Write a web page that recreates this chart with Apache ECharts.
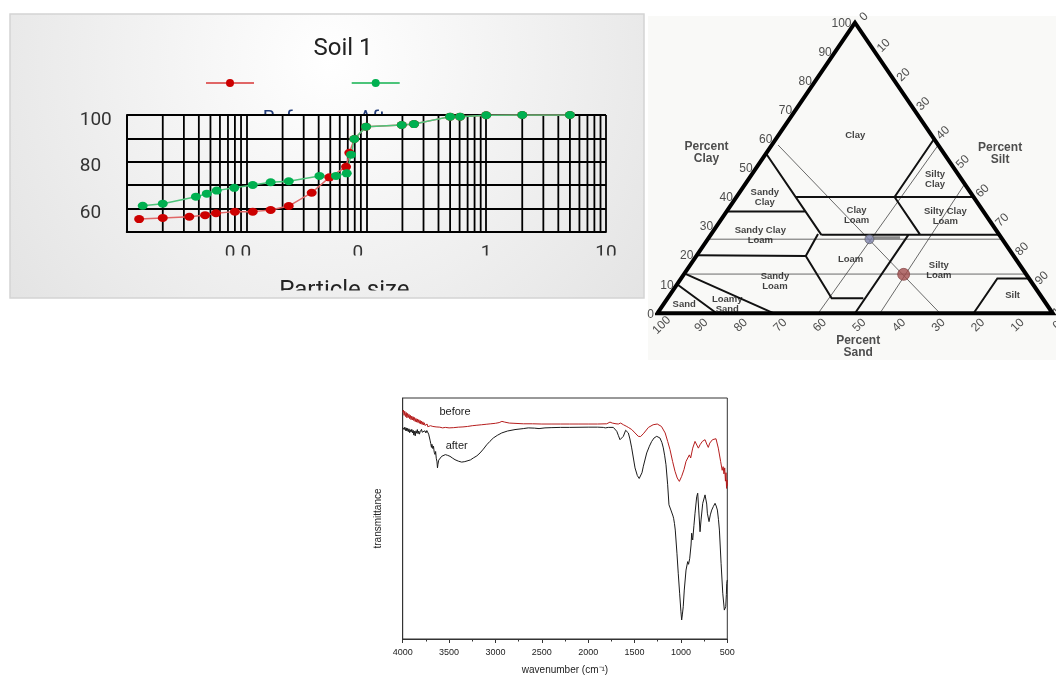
<!DOCTYPE html>
<html><head><meta charset="utf-8">
<script src="https://cdn.jsdelivr.net/npm/echarts@6/dist/echarts.min.js"></script>
<style>html,body{margin:0;padding:0;background:#fff}#c{width:1056px;height:677px}</style>
</head><body><div id="c"></div>
<script>
// ================= Panel 1 : grain size (Soil 1) =================
const soilTitle = 'Soil 1';
const seriesNames = ['Before', 'After'];
const sizeTickLabels = ['', '0.0', '0.', '1', '10'];      // labels at 0.001, 0.01, 0.1, 1, 10
const pctLabelValues = [60, 80, 100];
const beforeSize = [0.00127, 0.0020, 0.00333, 0.00451, 0.00556, 0.0080, 0.01127, 0.0159, 0.0225, 0.035, 0.0491, 0.0677, 0.0721, 0.0794, 0.0994, 0.1975, 0.25, 0.5, 0.605, 1, 2, 5];
const beforePct  = [55.4, 55.9, 56.4, 57.1, 57.9, 58.6, 58.6, 59.3, 61.0, 66.7, 73.3, 77.8, 83.8, 89.7, 95.0, 95.7, 96.1, 99.3, 99.3, 99.9, 100, 100];
const afterSize  = [0.00136, 0.0020, 0.00378, 0.00466, 0.00564, 0.0079, 0.01127, 0.0159, 0.0225, 0.0406, 0.0558, 0.0686, 0.0745, 0.0794, 0.0994, 0.1975, 0.25, 0.5, 0.605, 1, 2, 5];
const afterPct   = [61.1, 62.0, 65.0, 66.3, 67.6, 68.8, 70.0, 71.2, 71.6, 73.9, 73.9, 75.0, 83.0, 89.7, 95.0, 95.7, 96.1, 99.3, 99.3, 99.9, 100, 100];
const minorDecades = [0.001, 0.01, 0.1, 1];
const minorMultiples = [2, 3, 4, 5, 6, 7, 8, 9];
const pctRange = [50, 100];

// ================= Panel 2 : USDA texture triangle ([sand, clay] in %) =================
const triOutline = [[100, 0], [0, 100], [0, 0], [100, 0], [0, 100]];
const classBounds = [
  [[90, 10], [85, 0]],
  [[86, 13.5], [70.5, 0]],
  [[80, 20], [52.6, 19.7]],
  [[52.6, 19.7], [53.3, 5.2], [45.3, 5.2]],
  [[50, 0], [23, 27]],
  [[45.7, 27.3], [52.6, 19.7]],
  [[45, 55], [45, 27]],
  [[65, 35], [45, 35]],
  [[45, 40], [0, 40]],
  [[45, 27], [0, 27]],
  [[0, 60], [20, 40]],
  [[20, 40], [20, 27]],
  [[20, 0], [8, 12], [0, 12]]
];
const readLines = [
  [[74.5, 25.5], [0, 25.5]],
  [[86.5, 13.5], [0, 13.5]],
  [[40.5, 57.9], [28.5, 0]],
  [[59.3, 0], [0, 57.9]],
  [[43.7, 0], [0, 44.5]]
];
const readMark = [[32.4, 26], [25.6, 26]];
const samplePoints = [[33.6, 25.5], [31.0, 13.4]];
const textureNames = ['Clay', 'Sandy\nClay', 'Sandy Clay\nLoam', 'Clay\nLoam', 'Silty\nClay', 'Silty Clay\nLoam', 'Loam', 'Silty\nLoam', 'Sandy\nLoam', 'Sand', 'Loamy\nSand', 'Silt'];
const textureAt = [[19.4, 61.1], [52.8, 40.0], [60.5, 26.9], [32.7, 33.8], [6.7, 46.1], [10.4, 33.5], [41.8, 18.6], [21.5, 14.6], [64.8, 10.9], [91.6, 3.2], [80.7, 3.2], [7.1, 6.1]];
const axisTitles = ['Percent\nClay', 'Percent\nSilt', 'Percent\nSand'];
const axisTitleAt = [[60, 55.1], [-14.1, 54.8], [55, -11.6]];
const pctTicks = [0, 10, 20, 30, 40, 50, 60, 70, 80, 90, 100];

// ================= Panel 3 : FTIR spectra =================
const beforeWn = [4000,3992,3985,3978,3970,3962,3955,3947,3940,3932,3925,3917,3910,3902,3895,3887,3880,3872,3865,3857,3850,3842,3835,3827,3820,3812,3805,3797,3790,3782,3775,3767,3760,3752,3745,3737,3730,3720,3710,3700,3690,3675,3660,3640,3620,3600,3570,3540,3500,3450,3400,3350,3300,3250,3200,3150,3100,3050,3000,2960,2930,2915,2900,2880,2850,2800,2700,2600,2500,2400,2300,2200,2100,2000,1900,1800,1765,1740,1700,1675,1650,1620,1590,1567,1530,1495,1460,1435,1400,1350,1300,1255,1210,1170,1143,1118,1090,1064,1040,1017,1005,992,967,945,931,909,895,873,848,830,812,794,769,740,722,705,689,660,640,622,597,572,555,545,536,528,520,514,508,503,500];
const beforeT  = [94.0,95.0,92.8,94.5,92.3,94.0,91.8,93.6,91.9,93.2,91.4,92.8,91.0,92.5,90.9,92.2,90.6,91.9,90.2,91.5,90.0,91.3,89.8,91.0,89.5,90.7,89.2,90.4,89.0,90.1,88.8,89.7,88.6,89.4,88.4,89.2,88.1,88.9,87.9,88.5,87.8,88.2,87.7,88.0,87.6,87.9,87.6,87.8,87.6,87.7,87.9,88.0,88.2,88.5,88.7,88.9,89.1,89.3,89.5,89.8,90.3,90.5,90.0,89.8,89.6,89.5,89.3,89.3,89.2,89.2,89.2,89.2,89.2,89.2,89.2,89.3,90.0,89.6,89.3,89.2,89.6,88.9,88.3,87.8,86.9,85.5,84.1,84.0,85.4,87.8,88.9,89.2,88.2,85.5,82.0,78.6,73.7,69.6,66.8,65.4,65.6,67.5,70.3,73.7,73.0,76.4,75.1,79.2,82.0,82.7,79.2,80.6,82.0,82.7,80.9,79.5,81.3,82.7,82.0,83.1,79.2,73.7,70.0,71.5,68.5,71.0,65.5,69.0,62.5,66.0,63.5];
const afterWn = [4000,3992,3985,3977,3970,3962,3955,3947,3940,3932,3925,3917,3910,3902,3895,3887,3880,3872,3865,3857,3850,3842,3835,3827,3820,3812,3805,3797,3790,3780,3770,3760,3750,3740,3730,3720,3712,3705,3698,3690,3685,3675,3668,3660,3652,3645,3638,3630,3625,3620,3612,3600,3580,3560,3540,3515,3490,3460,3436,3400,3364,3330,3310,3270,3239,3200,3166,3130,3094,3060,3023,2980,2932,2870,2789,2700,2646,2580,2530,2520,2510,2466,2400,2300,2200,2000,1900,1837,1815,1808,1800,1783,1729,1710,1692,1675,1657,1639,1621,1596,1580,1567,1550,1531,1495,1470,1450,1434,1420,1405,1369,1340,1315,1290,1261,1245,1226,1205,1190,1175,1161,1143,1129,1108,1085,1079,1070,1061,1043,1029,1014,1000,992,985,975,964,945,927,918,910,905,899,891,884,878,873,860,848,830,819,808,794,783,765,740,730,722,715,697,683,668,650,632,620,607,595,585,567,549,532,524,517,510,506,500];
const afterT  = [87.8,88.4,86.9,87.9,86.5,87.6,86.3,87.4,86.0,87.2,85.6,86.8,85.9,87.0,85.5,86.6,84.6,86.2,84.3,86.4,85.4,86.9,85.2,86.3,85.0,86.0,85.3,87.0,85.8,86.6,85.6,86.4,85.5,86.5,86.8,85.0,84.6,82.5,81.2,79.5,80.8,79.0,80.0,77.5,76.6,77.8,75.0,73.5,71.0,72.5,74.2,75.0,75.8,76.4,76.5,76.2,75.8,75.0,74.4,73.8,73.4,73.6,73.7,74.3,75.1,76.0,77.2,78.8,80.6,82.0,83.4,84.5,85.5,86.3,86.9,87.3,87.6,87.5,87.3,86.8,87.3,87.6,87.7,87.8,87.8,87.9,87.9,87.8,87.6,86.9,87.5,87.8,87.8,87.3,86.2,84.5,82.7,82.3,84.1,86.6,86.3,85.5,83.0,79.3,71.0,67.8,66.6,66.8,69.0,71.7,77.2,80.0,82.0,83.4,84.1,84.0,83.4,81.5,79.3,76.0,72.3,64.0,55.7,53.5,51.0,50.1,48.0,45.2,35.6,27.3,19.0,11.3,7.9,10.0,13.4,20.3,28.6,32.1,31.0,30.7,33.5,32.8,39.0,43.9,42.0,41.1,47.0,52.2,59.0,60.5,53.5,44.5,49.4,56.3,59.8,60.5,56.0,52.2,48.7,51.5,53.5,55.0,56.3,55.2,53.5,49.5,45.2,31.4,19.0,12.0,11.5,13.4,18.5,23.1,24.5];

// ---------------- helpers ----------------
const zip = (a, b) => a.map((v, i) => [v, b[i]]);
const tern = p => [100 - p[0] - p[1] / 2, p[1]];          // [sand, clay] -> triangle cartesian
const polyData = list => {
  const out = [];
  list.forEach((pl, i) => { if (i) out.push(['-', '-']); pl.forEach(p => out.push(tern(p))); });
  return out;
};
const minorGridData = [];
minorDecades.forEach(d => minorMultiples.forEach(m => {
  const v = +(d * m).toPrecision(3);
  if (minorGridData.length) minorGridData.push(['-', '-']);
  minorGridData.push([v, pctRange[0]], [v, pctRange[1]]);
}));
// label offset given in screen pixels, converted to the label's rotated frame (45° CCW)
const rotOffset = (dx, dy) => { const c = Math.SQRT1_2; return [dx * c - dy * c, dx * c + dy * c]; };

const F1 = 'Roboto, "Open Sans", sans-serif';
const FA = '"Liberation Sans", Arial, sans-serif';
const bgGrad = { type: 'radial', x: 330, y: 60, r: 420, global: true,
  colorStops: [{ offset: 0, color: '#ffffff' }, { offset: 1, color: '#e2e2e2' }] };
const centered = { textAlign: 'center', align: 'center', textVerticalAlign: 'middle', verticalAlign: 'middle' };
const vmid = { textVerticalAlign: 'middle', verticalAlign: 'middle' };

const triLineSeries = (data, width, color, z) => ({
  type: 'line', xAxisIndex: 1, yAxisIndex: 1, data, symbol: 'none', showSymbol: false,
  connectNulls: false, clip: false, silent: true, z,
  lineStyle: { width, color, join: 'miter', miterLimit: 10 }
});
const triLabelSeries = (names, at, label) => ({
  type: 'scatter', xAxisIndex: 1, yAxisIndex: 1, clip: false, silent: true, z: 7,
  symbolSize: 1, itemStyle: { color: 'rgba(0,0,0,0)' },
  data: names.map((n, i) => ({ name: String(n), value: tern(at[i]) })),
  label: Object.assign({ show: true, formatter: p => p.name, color: '#111', fontFamily: FA }, label)
});

const option = {
  animation: false,
  graphic: [
    { type: 'rect', z: 0, shape: { x: 10, y: 14, width: 634, height: 284 }, style: { fill: bgGrad, stroke: '#d4d4d4', lineWidth: 1.5 } },
    { type: 'text', z: 1, x: 262.7, y: 119.5, style: Object.assign({ text: seriesNames[0], font: '20px ' + F1, fill: '#1f3a78' }, vmid) },
    { type: 'text', z: 1, x: 359, y: 119.5, style: Object.assign({ text: seriesNames[1], font: '20px ' + F1, fill: '#1f3a78' }, vmid) },
    { type: 'rect', z: 2, shape: { x: 126.7, y: 115, width: 479.3, height: 116.7 }, style: { fill: bgGrad } },
    // bottom clipping of the panel's axis texts
    { type: 'rect', z: 20, shape: { x: 60, y: 255.5, width: 580, height: 17 }, style: { fill: bgGrad } },
    { type: 'rect', z: 20, shape: { x: 60, y: 290.5, width: 580, height: 6.5 }, style: { fill: bgGrad } },
    { type: 'text', z: 3, x: 343, y: 49, style: Object.assign({ text: soilTitle, font: '24px ' + F1, fill: '#222' }, centered) },
    { type: 'rect', z: 0, shape: { x: 648, y: 16, width: 408, height: 344 }, style: { fill: '#f9f9f7' } },
    { type: 'text', z: 3, x: 455, y: 412, style: Object.assign({ text: 'before', font: '11px ' + FA, fill: '#222' }, centered) },
    { type: 'text', z: 3, x: 456.7, y: 446.3, style: Object.assign({ text: 'after', font: '11px ' + FA, fill: '#222' }, centered) }
  ],
  legend: [
    { data: [seriesNames[0]], left: 200, top: 73, itemWidth: 48, itemHeight: 10, formatter: () => '', z: 6, selectedMode: false },
    { data: [seriesNames[1]], left: 345.7, top: 73, itemWidth: 48, itemHeight: 10, formatter: () => '', z: 6, selectedMode: false }
  ],
  grid: [
    { left: 126.7, top: 115, width: 479.3, height: 116.7 },
    { left: 657.3, top: 22.7, width: 395.4, height: 290.6 },
    { left: 402.7, top: 398, width: 324.6, height: 241, show: true, borderColor: '#333', borderWidth: 1, backgroundColor: 'transparent' }
  ],
  xAxis: [
    { gridIndex: 0, type: 'log', logBase: 10, min: 0.001, max: 10, z: 3,
      axisLine: { show: true, lineStyle: { color: '#000', width: 1.8 } }, axisTick: { show: false },
      splitLine: { show: true, lineStyle: { color: '#000', width: 1.8 } },
      axisLabel: { margin: 12, fontSize: 19, color: '#333', fontFamily: F1,
        formatter: v => { const k = Math.round(Math.log10(v)) + 3; const t = sizeTickLabels[k] || ''; return k === 1 ? '{a|' + t + '}' : (k === 2 ? '{b|' + t + '}' : t); },
        rich: { a: { fontSize: 19, color: '#333', fontFamily: F1, padding: [0, 17, 0, 0] }, b: { fontSize: 19, color: '#333', fontFamily: F1, padding: [0, 12, 0, 0] } } },
      name: 'Particle size', nameLocation: 'middle', nameGap: 47,
      nameTextStyle: { fontSize: 24, color: '#222', fontFamily: F1, padding: [0, 44, 0, 0] } },
    { gridIndex: 1, type: 'value', min: 0, max: 100, show: false },
    { gridIndex: 2, type: 'value', min: 500, max: 4000, interval: 500, inverse: true,
      axisLine: { show: true, lineStyle: { color: '#333', width: 1 } },
      axisTick: { show: true, inside: false, length: 4, lineStyle: { color: '#333' } },
      minorTick: { show: true, splitNumber: 2, length: 2.5, lineStyle: { color: '#333' } },
      splitLine: { show: false },
      axisLabel: { margin: 9, fontSize: 9, color: '#222', fontFamily: FA, formatter: v => String(v) },
      name: 'wavenumber (cm\u207B\u00B9)', nameLocation: 'middle', nameGap: 26,
      nameTextStyle: { fontSize: 10, color: '#222', fontFamily: FA } }
  ],
  yAxis: [
    { gridIndex: 0, type: 'value', min: pctRange[0], max: pctRange[1], interval: 10, z: 3,
      axisLine: { show: true, lineStyle: { color: '#000', width: 1.8 } }, axisTick: { show: false },
      splitLine: { show: true, lineStyle: { color: '#000', width: 1.8 } },
      axisLabel: { align: 'left', margin: 47, fontSize: 19, color: '#333', fontFamily: F1,
        formatter: v => pctLabelValues.includes(v) ? '{p|' + v + '}' : '',
        rich: { p: { fontSize: 19, color: '#333', fontFamily: F1, padding: [10, 0, 0, 0] } } } },
    { gridIndex: 1, type: 'value', min: 0, max: 100, show: false },
    { gridIndex: 2, type: 'value', min: 0, max: 100,
      axisLine: { show: true, lineStyle: { color: '#333', width: 1 } }, axisTick: { show: false },
      axisLabel: { show: false }, splitLine: { show: false },
      name: 'transmittance', nameLocation: 'middle', nameGap: 19, nameRotate: 90,
      nameTextStyle: { fontSize: 10, color: '#222', fontFamily: FA } }
  ],
  series: [
    // minor (2..9) lines of the log grid
    { type: 'line', xAxisIndex: 0, yAxisIndex: 0, data: minorGridData, z: 3, silent: true,
      symbol: 'none', showSymbol: false, connectNulls: false,
      lineStyle: { color: '#000', width: 1.8 } },
    { name: seriesNames[0], type: 'line', xAxisIndex: 0, yAxisIndex: 0, z: 5,
      data: zip(beforeSize, beforePct), symbol: 'circle', symbolSize: [10, 8],
      itemStyle: { color: '#cc0000' }, lineStyle: { color: '#e06666', width: 1.5 } },
    { name: seriesNames[1], type: 'line', xAxisIndex: 0, yAxisIndex: 0, z: 5,
      data: zip(afterSize, afterPct), symbol: 'circle', symbolSize: [10, 8],
      itemStyle: { color: '#00b050' }, lineStyle: { color: '#4cc47a', width: 1.5 } },

    // texture triangle
    triLineSeries(polyData(readLines), 0.8, '#444', 4),
    triLineSeries(polyData([readMark]), 3, '#8a8a8a', 4),
    triLineSeries(polyData(classBounds), 2, '#111', 5),
    triLineSeries(polyData([triOutline]), 4, '#000', 6),
    { type: 'scatter', xAxisIndex: 1, yAxisIndex: 1, z: 8, silent: true, clip: false,
      data: [
        { value: tern(samplePoints[0]), symbolSize: 9, itemStyle: { color: '#7f84ad', borderColor: '#555', borderWidth: 0.8 } },
        { value: tern(samplePoints[1]), symbolSize: 12, itemStyle: { color: '#a34f4f', borderColor: '#7a3535', borderWidth: 0.8 } }
      ] },
    triLabelSeries(textureNames, textureAt, { position: 'inside', fontSize: 9.5, fontWeight: 'bold', lineHeight: 10 }),
    triLabelSeries(axisTitles, axisTitleAt, { position: 'inside', fontSize: 12, fontWeight: 'bold', lineHeight: 12, color: '#222' }),
    triLabelSeries(pctTicks, pctTicks.map(c => [100 - c, c]), { position: 'left', distance: 3, offset: [0, 1], fontSize: 12, color: '#222' }),
    triLabelSeries(pctTicks, pctTicks.map(s => [0, 100 - s]), { position: 'inside', rotate: 45, offset: rotOffset(9, -6), fontSize: 12, color: '#222' }),
    triLabelSeries(pctTicks, pctTicks.map(t => [t, 0]), { position: 'inside', rotate: 45, offset: rotOffset(4.5, 12), fontSize: 12, color: '#222' }),

    // FTIR
    { type: 'line', xAxisIndex: 2, yAxisIndex: 2, z: 5, data: zip(beforeWn, beforeT), symbol: 'none', showSymbol: false,
      lineStyle: { color: '#b51d1d', width: 1 } },
    { type: 'line', xAxisIndex: 2, yAxisIndex: 2, z: 5, data: zip(afterWn, afterT), symbol: 'none', showSymbol: false,
      lineStyle: { color: '#1a1a1a', width: 1 } }
  ]
};
const chart = echarts.init(document.getElementById('c'));
chart.setOption(option);
</script>
</body></html>
